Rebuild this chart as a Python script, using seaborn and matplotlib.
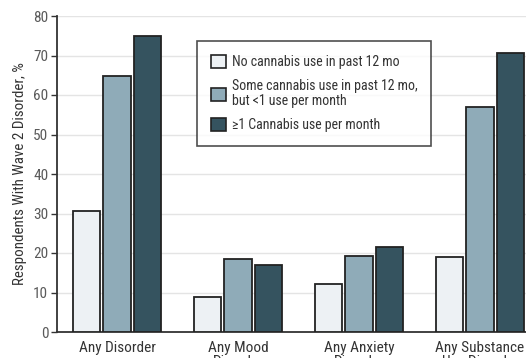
import matplotlib
matplotlib.use("Agg")
import matplotlib.pyplot as plt
import seaborn as sns
import pandas as pd
from matplotlib.patches import Patch

categories = ["Any Disorder", "Any Mood\nDisorder", "Any Anxiety\nDisorder", "Any Substance\nUse Disorder"]
series = ["No cannabis use in past 12 mo",
          "Some cannabis use in past 12 mo,\nbut <1 use per month",
          "\u22651 Cannabis use per month"]
no_use = [30.7, 8.8, 12.2, 19.0]
some_use = [64.8, 18.6, 19.3, 57.0]
monthly_use = [74.9, 17.0, 21.4, 70.6]
colors = ["#edf1f4", "#8fabb8", "#35535f"]

rows = []
for vals, s in zip([no_use, some_use, monthly_use], series):
    for c, v in zip(categories, vals):
        rows.append({"cat": c, "series": s, "val": v})
df = pd.DataFrame(rows)

sns.set_style("white")
plt.rcParams["font.family"] = ["Roboto Condensed", "Liberation Sans Narrow", "Open Sans Condensed",
                               "Lato", "DejaVu Sans"]

fig = plt.figure(figsize=(5.26, 3.58), dpi=100)
ax = fig.add_axes([56.5 / 526, (358 - 332) / 358, (526 - 56.5) / 526, (332 - 16) / 358])

sns.barplot(data=df, x="cat", y="val", hue="series", order=categories,
            hue_order=series, palette=colors, saturation=1, width=0.75, gap=0.1,
            edgecolor="#222222", linewidth=1.3, ax=ax, legend=False, zorder=3)

ax.set_ylim(0, 80)
ax.set_xlim(-0.5, (526 - 117) / 121)
ax.set_yticks(range(0, 81, 10))
ax.yaxis.grid(True, color="#e4e4e4", linewidth=1.0, zorder=0)
ax.xaxis.grid(False)
ax.set_axisbelow(True)
for s in ["top", "right"]:
    ax.spines[s].set_visible(False)
for s in ["left", "bottom"]:
    ax.spines[s].set_color("#333333")
    ax.spines[s].set_linewidth(1.3)
ax.tick_params(axis="y", which="both", left=True, length=4, width=1.0,
               color="#333333", labelsize=11, labelcolor="#5a5a5a", pad=2)
ax.tick_params(axis="x", bottom=False, labelsize=11, labelcolor="#333333", pad=3)
for lbl in ax.get_xticklabels():
    lbl.set_verticalalignment("top")
    lbl.set_linespacing(1.0)
ax.set_xlabel("")
ax.set_ylabel("Respondents With Wave 2 Disorder, %", fontsize=10.8, color="#333333", labelpad=4)

handles = [Patch(facecolor=c, edgecolor="#222222", linewidth=1.2) for c in colors]
leg = ax.legend(handles, series, loc="upper left",
                bbox_to_anchor=((197 - 56.5) / (526 - 56.5), (332 - 41) / (332 - 16)),
                frameon=True, fancybox=False, fontsize=10, handlelength=1.1,
                handleheight=1.1, handletextpad=0.4, labelspacing=0.7,
                borderpad=1.0, borderaxespad=0)
leg.get_frame().set_edgecolor("#222222")
leg.get_frame().set_linewidth(1.2)
for t in leg.get_texts():
    t.set_color("#333333")
    t.set_linespacing(1.1)

fig.savefig("out.png", dpi=100)
